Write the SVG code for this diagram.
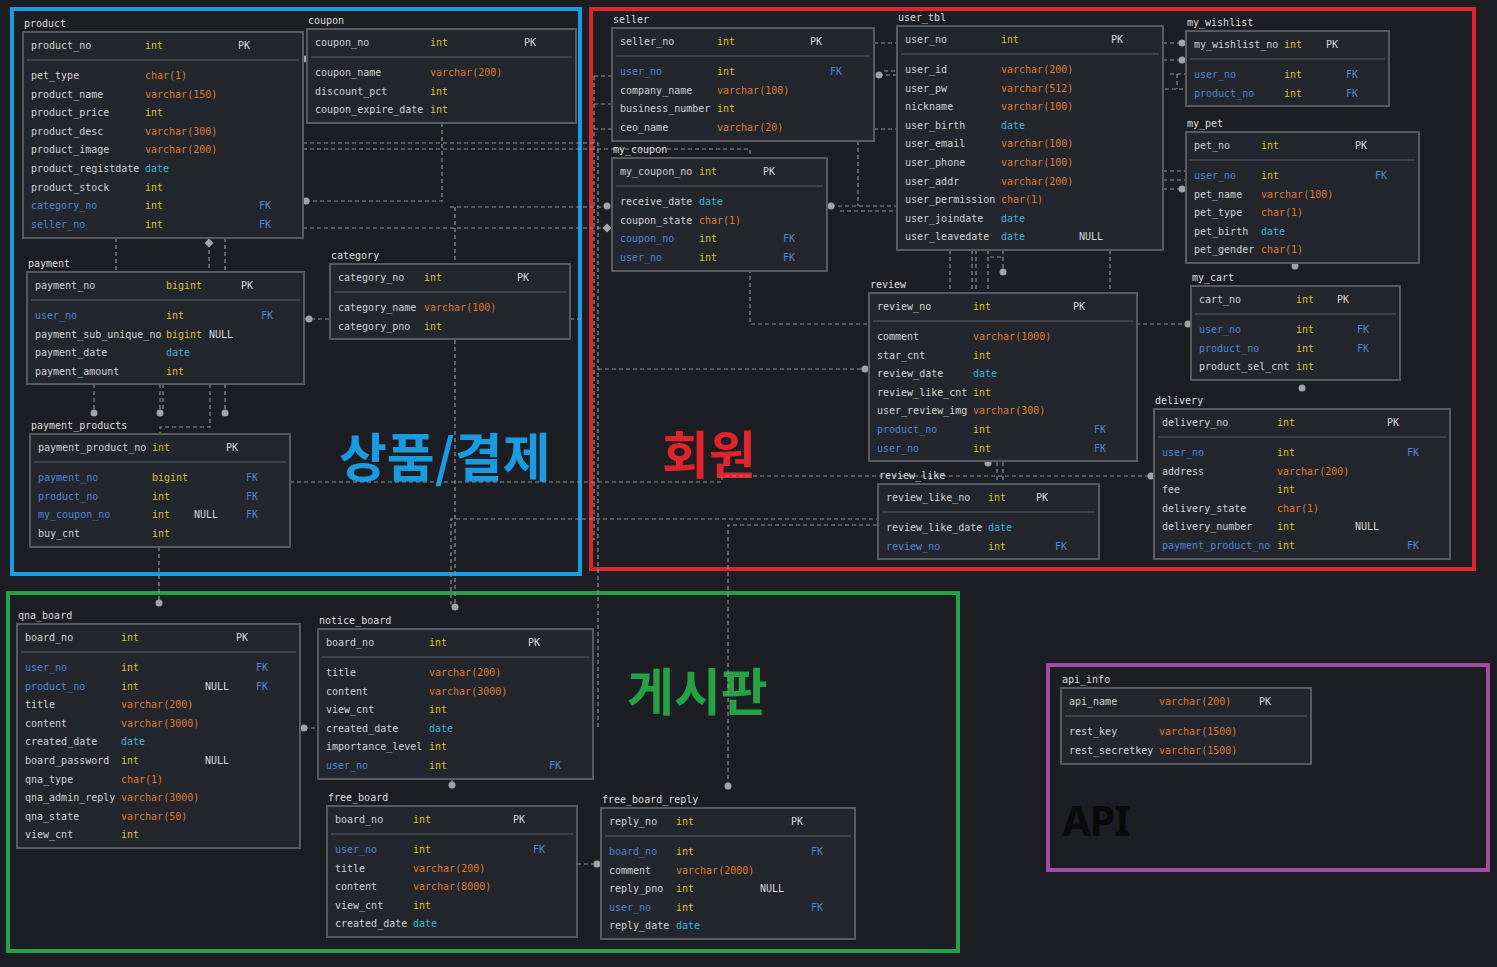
<svg xmlns="http://www.w3.org/2000/svg" width="1497" height="967" viewBox="0 0 1497 967">
<defs>
<style>
text{font-family:"DejaVu Sans Mono","Liberation Mono",monospace;font-size:10px;fill:#d2d2d2}
.box{fill:#23262c;stroke:#575a62;stroke-width:2}
.sep{stroke:#4a4d55;stroke-width:1.5}
.ttl{fill:#dcdcdc}
.f{fill:#4f87d8}
.i{fill:#d6c32f}
.v{fill:#dd7a30}
.d{fill:#3fb5d8}
.k{fill:#d8d8d8}
.fk{fill:#4f87d8}
.nl{fill:#d8d8d8}
.c{fill:none;stroke:#8e9197;stroke-width:1.2;stroke-dasharray:4 3}
.dot{fill:#a0a3a8}
.frame{fill:none;stroke-width:4}
.big{font-family:"Noto Sans CJK KR","Noto Sans",sans-serif;font-weight:bold;font-size:51px}
</style>
</defs>
<rect width="1497" height="967" fill="#1d1e23"/>

<g id="frames">
<rect class="frame" x="12" y="9" width="568" height="565" stroke="#1a9be0"/>
<rect class="frame" x="591" y="9" width="883" height="560" stroke="#e0242b"/>
<rect class="frame" x="8" y="593" width="950" height="358" stroke="#25a244"/>
<rect class="frame" x="1048" y="665" width="440" height="205" stroke="#a04fa0"/>
</g>

<g id="group-labels">
<text class="big" x="339" y="477" style="fill:#1a9be0;font-size:52px">상품/결제</text>
<text class="big" x="662" y="474" style="fill:#e0242b">회원</text>
<text class="big" x="627" y="711" style="fill:#25a244">게시판</text>
<text x="1062" y="836" style="font-family:'Noto Sans','Liberation Sans',sans-serif;font-weight:bold;font-size:42px;letter-spacing:-1.5px;fill:#0a0a0a">API</text>
</g>

<g id="connectors">
<path class="c" d="M303,143 H598 V727"/>
<path class="c" d="M594,76 V540"/>
<path class="c" d="M303,149 H750 V324 H1187"/>
<path class="c" d="M306,201 H442 V123"/>
<path class="c" d="M450,207 H607"/>
<path class="c" d="M455,207 V607"/>
<path class="c" d="M303,228 H603"/>
<path class="c" d="M598,369 H865"/>
<path class="c" d="M290,482 H722 V476 H1150"/>
<path class="c" d="M451,605 V519 H878"/>
<path class="c" d="M728,786 V525 H878"/>
<path class="c" d="M159,547 V603"/>
<path class="c" d="M116,238 V272 M209,243 V272 M225,238 V272"/>
<path class="c" d="M94,384 V413 M160,384 V413 M163,384 V410 M210,384 V427 H160 V434 M225,384 V413"/>
<path class="c" d="M304,319 H330 M570,319 H581"/>
<path class="c" d="M874,43 H897 M874,129 H897 M879,75 H897 M884,71 H897"/>
<path class="c" d="M831,206 H897 M858,141 V206 M840,211 H897"/>
<path class="c" d="M594,76 H612 M594,104 H612 M594,129 H612"/>
<path class="c" d="M1163,43 H1182 M1163,60 H1182 M1170,74 H1186 M1165,89 H1186 M1177,74 V89"/>
<path class="c" d="M1163,171 H1186 M1163,180 H1186 M1163,189 H1182"/>
<path class="c" d="M950,250 V293 M972,250 V293 M976,250 V293 M988,250 V293 M1003,250 V272 M1110,250 V293 M990,257 H1002"/>
<path class="c" d="M997,462 V484 M1003,462 V484"/>
<path class="c" d="M304,728 H318 M452,779 V785 M577,864 H597"/>
<circle class="dot" cx="306" cy="59" r="3.5"/>
<circle class="dot" cx="306" cy="201" r="3.5"/>
<circle class="dot" cx="607" cy="206" r="3.5"/>
<path class="dot" d="M607,223.5 L611.5,228 L607,232.5 L602.5,228 Z"/>
<path class="dot" d="M209,238.5 L213.5,243 L209,247.5 L204.5,243 Z"/>
<circle class="dot" cx="455" cy="607" r="3.5"/>
<circle class="dot" cx="865" cy="369" r="3.5"/>
<circle class="dot" cx="1151" cy="476" r="3.5"/>
<circle class="dot" cx="728" cy="786" r="3.5"/>
<circle class="dot" cx="159" cy="603" r="3.5"/>
<circle class="dot" cx="94" cy="413" r="3.5"/>
<circle class="dot" cx="160" cy="413" r="3.5"/>
<circle class="dot" cx="225" cy="413" r="3.5"/>
<circle class="dot" cx="309" cy="319" r="3.5"/>
<circle class="dot" cx="879" cy="75" r="3.5"/>
<circle class="dot" cx="831" cy="206" r="3.5"/>
<circle class="dot" cx="1182" cy="43" r="3.5"/>
<circle class="dot" cx="1182" cy="60" r="3.5"/>
<circle class="dot" cx="1182" cy="189" r="3.5"/>
<circle class="dot" cx="1003" cy="272" r="3.5"/>
<circle class="dot" cx="1188" cy="324" r="3.5"/>
<circle class="dot" cx="988" cy="463" r="3.5"/>
<circle class="dot" cx="1295" cy="266" r="3.5"/>
<circle class="dot" cx="1302" cy="388" r="3.5"/>
<circle class="dot" cx="304" cy="728" r="3.5"/>
<circle class="dot" cx="452" cy="785" r="3.5"/>
<circle class="dot" cx="597" cy="864" r="3.5"/>
</g>

<g id="product" transform="translate(23,32)">
<text class="ttl" x="1" y="-5">product</text>
<rect class="box" width="280" height="206"/>
<line class="sep" x1="4" y1="28" x2="276" y2="28"/>
<text x="8" y="16.5">product_no</text><text class="i" x="122" y="16.5">int</text><text class="k" x="215" y="16.5">PK</text>
<text x="8" y="47">pet_type</text><text class="v" x="122" y="47">char(1)</text>
<text x="8" y="65.6">product_name</text><text class="v" x="122" y="65.6">varchar(150)</text>
<text x="8" y="84.2">product_price</text><text class="i" x="122" y="84.2">int</text>
<text x="8" y="102.8">product_desc</text><text class="v" x="122" y="102.8">varchar(300)</text>
<text x="8" y="121.4">product_image</text><text class="v" x="122" y="121.4">varchar(200)</text>
<text x="8" y="140">product_registdate</text><text class="d" x="122" y="140">date</text>
<text x="8" y="158.6">product_stock</text><text class="i" x="122" y="158.6">int</text>
<text class="f" x="8" y="177.2">category_no</text><text class="i" x="122" y="177.2">int</text><text class="fk" x="236" y="177.2">FK</text>
<text class="f" x="8" y="195.8">seller_no</text><text class="i" x="122" y="195.8">int</text><text class="fk" x="236" y="195.8">FK</text>
</g>

<g id="coupon" transform="translate(307,29)">
<text class="ttl" x="1" y="-5">coupon</text>
<rect class="box" width="269" height="94"/>
<line class="sep" x1="4" y1="28" x2="265" y2="28"/>
<text x="8" y="16.5">coupon_no</text><text class="i" x="123" y="16.5">int</text><text class="k" x="217" y="16.5">PK</text>
<text x="8" y="47">coupon_name</text><text class="v" x="123" y="47">varchar(200)</text>
<text x="8" y="65.6">discount_pct</text><text class="i" x="123" y="65.6">int</text>
<text x="8" y="84.2">coupon_expire_date</text><text class="i" x="123" y="84.2">int</text>
</g>

<g id="seller" transform="translate(612,28)">
<text class="ttl" x="1" y="-5">seller</text>
<rect class="box" width="262" height="113"/>
<line class="sep" x1="4" y1="28" x2="258" y2="28"/>
<text x="8" y="16.5">seller_no</text><text class="i" x="105" y="16.5">int</text><text class="k" x="198" y="16.5">PK</text>
<text class="f" x="8" y="47">user_no</text><text class="i" x="105" y="47">int</text><text class="fk" x="218" y="47">FK</text>
<text x="8" y="65.6">company_name</text><text class="v" x="105" y="65.6">varchar(100)</text>
<text x="8" y="84.2">business_number</text><text class="i" x="105" y="84.2">int</text>
<text x="8" y="102.8">ceo_name</text><text class="v" x="105" y="102.8">varchar(20)</text>
</g>

<g id="my_coupon" transform="translate(612,158)">
<text class="ttl" x="1" y="-5">my_coupon</text>
<rect class="box" width="215" height="113"/>
<line class="sep" x1="4" y1="28" x2="211" y2="28"/>
<text x="8" y="16.5">my_coupon_no</text><text class="i" x="87" y="16.5">int</text><text class="k" x="151" y="16.5">PK</text>
<text x="8" y="47">receive_date</text><text class="d" x="87" y="47">date</text>
<text x="8" y="65.6">coupon_state</text><text class="v" x="87" y="65.6">char(1)</text>
<text class="f" x="8" y="84.2">coupon_no</text><text class="i" x="87" y="84.2">int</text><text class="fk" x="171" y="84.2">FK</text>
<text class="f" x="8" y="102.8">user_no</text><text class="i" x="87" y="102.8">int</text><text class="fk" x="171" y="102.8">FK</text>
</g>

<g id="user_tbl" transform="translate(897,26)">
<text class="ttl" x="1" y="-5">user_tbl</text>
<rect class="box" width="266" height="224"/>
<line class="sep" x1="4" y1="28" x2="262" y2="28"/>
<text x="8" y="16.5">user_no</text><text class="i" x="104" y="16.5">int</text><text class="k" x="214" y="16.5">PK</text>
<text x="8" y="47">user_id</text><text class="v" x="104" y="47">varchar(200)</text>
<text x="8" y="65.6">user_pw</text><text class="v" x="104" y="65.6">varchar(512)</text>
<text x="8" y="84.2">nickname</text><text class="v" x="104" y="84.2">varchar(100)</text>
<text x="8" y="102.8">user_birth</text><text class="d" x="104" y="102.8">date</text>
<text x="8" y="121.4">user_email</text><text class="v" x="104" y="121.4">varchar(100)</text>
<text x="8" y="140">user_phone</text><text class="v" x="104" y="140">varchar(100)</text>
<text x="8" y="158.6">user_addr</text><text class="v" x="104" y="158.6">varchar(200)</text>
<text x="8" y="177.2">user_permission</text><text class="v" x="104" y="177.2">char(1)</text>
<text x="8" y="195.8">user_joindate</text><text class="d" x="104" y="195.8">date</text>
<text x="8" y="214.4">user_leavedate</text><text class="d" x="104" y="214.4">date</text><text class="nl" x="182" y="214.4">NULL</text>
</g>

<g id="my_wishlist" transform="translate(1186,31)">
<text class="ttl" x="1" y="-5">my_wishlist</text>
<rect class="box" width="203" height="75"/>
<line class="sep" x1="4" y1="28" x2="199" y2="28"/>
<text x="8" y="16.5">my_wishlist_no</text><text class="i" x="98" y="16.5">int</text><text class="k" x="140" y="16.5">PK</text>
<text class="f" x="8" y="47">user_no</text><text class="i" x="98" y="47">int</text><text class="fk" x="160" y="47">FK</text>
<text class="f" x="8" y="65.6">product_no</text><text class="i" x="98" y="65.6">int</text><text class="fk" x="160" y="65.6">FK</text>
</g>

<g id="my_pet" transform="translate(1186,132)">
<text class="ttl" x="1" y="-5">my_pet</text>
<rect class="box" width="233" height="131"/>
<line class="sep" x1="4" y1="28" x2="229" y2="28"/>
<text x="8" y="16.5">pet_no</text><text class="i" x="75" y="16.5">int</text><text class="k" x="169" y="16.5">PK</text>
<text class="f" x="8" y="47">user_no</text><text class="i" x="75" y="47">int</text><text class="fk" x="189" y="47">FK</text>
<text x="8" y="65.6">pet_name</text><text class="v" x="75" y="65.6">varchar(100)</text>
<text x="8" y="84.2">pet_type</text><text class="v" x="75" y="84.2">char(1)</text>
<text x="8" y="102.8">pet_birth</text><text class="d" x="75" y="102.8">date</text>
<text x="8" y="121.4">pet_gender</text><text class="v" x="75" y="121.4">char(1)</text>
</g>

<g id="my_cart" transform="translate(1191,286)">
<text class="ttl" x="1" y="-5">my_cart</text>
<rect class="box" width="209" height="94"/>
<line class="sep" x1="4" y1="28" x2="205" y2="28"/>
<text x="8" y="16.5">cart_no</text><text class="i" x="105" y="16.5">int</text><text class="k" x="146" y="16.5">PK</text>
<text class="f" x="8" y="47">user_no</text><text class="i" x="105" y="47">int</text><text class="fk" x="166" y="47">FK</text>
<text class="f" x="8" y="65.6">product_no</text><text class="i" x="105" y="65.6">int</text><text class="fk" x="166" y="65.6">FK</text>
<text x="8" y="84.2">product_sel_cnt</text><text class="i" x="105" y="84.2">int</text>
</g>

<g id="delivery" transform="translate(1154,409)">
<text class="ttl" x="1" y="-5">delivery</text>
<rect class="box" width="296" height="150"/>
<line class="sep" x1="4" y1="28" x2="292" y2="28"/>
<text x="8" y="16.5">delivery_no</text><text class="i" x="123" y="16.5">int</text><text class="k" x="233" y="16.5">PK</text>
<text class="f" x="8" y="47">user_no</text><text class="i" x="123" y="47">int</text><text class="fk" x="253" y="47">FK</text>
<text x="8" y="65.6">address</text><text class="v" x="123" y="65.6">varchar(200)</text>
<text x="8" y="84.2">fee</text><text class="i" x="123" y="84.2">int</text>
<text x="8" y="102.8">delivery_state</text><text class="v" x="123" y="102.8">char(1)</text>
<text x="8" y="121.4">delivery_number</text><text class="i" x="123" y="121.4">int</text><text class="nl" x="201" y="121.4">NULL</text>
<text class="f" x="8" y="140">payment_product_no</text><text class="i" x="123" y="140">int</text><text class="fk" x="253" y="140">FK</text>
</g>

<g id="payment" transform="translate(27,272)">
<text class="ttl" x="1" y="-5">payment</text>
<rect class="box" width="277" height="112"/>
<line class="sep" x1="4" y1="28" x2="273" y2="28"/>
<text x="8" y="16.5">payment_no</text><text class="i" x="139" y="16.5">bigint</text><text class="k" x="214" y="16.5">PK</text>
<text class="f" x="8" y="47">user_no</text><text class="i" x="139" y="47">int</text><text class="fk" x="234" y="47">FK</text>
<text x="8" y="65.6">payment_sub_unique_no</text><text class="i" x="139" y="65.6">bigint</text><text class="nl" x="182" y="65.6">NULL</text>
<text x="8" y="84.2">payment_date</text><text class="d" x="139" y="84.2">date</text>
<text x="8" y="102.8">payment_amount</text><text class="i" x="139" y="102.8">int</text>
</g>

<g id="category" transform="translate(330,264)">
<text class="ttl" x="1" y="-5">category</text>
<rect class="box" width="240" height="75"/>
<line class="sep" x1="4" y1="28" x2="236" y2="28"/>
<text x="8" y="16.5">category_no</text><text class="i" x="94" y="16.5">int</text><text class="k" x="187" y="16.5">PK</text>
<text x="8" y="47">category_name</text><text class="v" x="94" y="47">varchar(100)</text>
<text x="8" y="65.6">category_pno</text><text class="i" x="94" y="65.6">int</text>
</g>

<g id="payment_products" transform="translate(30,434)">
<text class="ttl" x="1" y="-5">payment_products</text>
<rect class="box" width="260" height="113"/>
<line class="sep" x1="4" y1="28" x2="256" y2="28"/>
<text x="8" y="16.5">payment_product_no</text><text class="i" x="122" y="16.5">int</text><text class="k" x="196" y="16.5">PK</text>
<text class="f" x="8" y="47">payment_no</text><text class="i" x="122" y="47">bigint</text><text class="fk" x="216" y="47">FK</text>
<text class="f" x="8" y="65.6">product_no</text><text class="i" x="122" y="65.6">int</text><text class="fk" x="216" y="65.6">FK</text>
<text class="f" x="8" y="84.2">my_coupon_no</text><text class="i" x="122" y="84.2">int</text><text class="nl" x="164" y="84.2">NULL</text><text class="fk" x="216" y="84.2">FK</text>
<text x="8" y="102.8">buy_cnt</text><text class="i" x="122" y="102.8">int</text>
</g>

<g id="review" transform="translate(869,293)">
<text class="ttl" x="1" y="-5">review</text>
<rect class="box" width="268" height="168"/>
<line class="sep" x1="4" y1="28" x2="264" y2="28"/>
<text x="8" y="16.5">review_no</text><text class="i" x="104" y="16.5">int</text><text class="k" x="204" y="16.5">PK</text>
<text x="8" y="47">comment</text><text class="v" x="104" y="47">varchar(1000)</text>
<text x="8" y="65.6">star_cnt</text><text class="i" x="104" y="65.6">int</text>
<text x="8" y="84.2">review_date</text><text class="d" x="104" y="84.2">date</text>
<text x="8" y="102.8">review_like_cnt</text><text class="i" x="104" y="102.8">int</text>
<text x="8" y="121.4">user_review_img</text><text class="v" x="104" y="121.4">varchar(300)</text>
<text class="f" x="8" y="140">product_no</text><text class="i" x="104" y="140">int</text><text class="fk" x="225" y="140">FK</text>
<text class="f" x="8" y="158.6">user_no</text><text class="i" x="104" y="158.6">int</text><text class="fk" x="225" y="158.6">FK</text>
</g>

<g id="review_like" transform="translate(878,484)">
<text class="ttl" x="1" y="-5">review_like</text>
<rect class="box" width="221" height="75"/>
<line class="sep" x1="4" y1="28" x2="217" y2="28"/>
<text x="8" y="16.5">review_like_no</text><text class="i" x="110" y="16.5">int</text><text class="k" x="158" y="16.5">PK</text>
<text x="8" y="47">review_like_date</text><text class="d" x="110" y="47">date</text>
<text class="f" x="8" y="65.6">review_no</text><text class="i" x="110" y="65.6">int</text><text class="fk" x="177" y="65.6">FK</text>
</g>

<g id="qna_board" transform="translate(17,624)">
<text class="ttl" x="1" y="-5">qna_board</text>
<rect class="box" width="283" height="224"/>
<line class="sep" x1="4" y1="28" x2="279" y2="28"/>
<text x="8" y="16.5">board_no</text><text class="i" x="104" y="16.5">int</text><text class="k" x="219" y="16.5">PK</text>
<text class="f" x="8" y="47">user_no</text><text class="i" x="104" y="47">int</text><text class="fk" x="239" y="47">FK</text>
<text class="f" x="8" y="65.6">product_no</text><text class="i" x="104" y="65.6">int</text><text class="nl" x="188" y="65.6">NULL</text><text class="fk" x="239" y="65.6">FK</text>
<text x="8" y="84.2">title</text><text class="v" x="104" y="84.2">varchar(200)</text>
<text x="8" y="102.8">content</text><text class="v" x="104" y="102.8">varchar(3000)</text>
<text x="8" y="121.4">created_date</text><text class="d" x="104" y="121.4">date</text>
<text x="8" y="140">board_password</text><text class="i" x="104" y="140">int</text><text class="nl" x="188" y="140">NULL</text>
<text x="8" y="158.6">qna_type</text><text class="v" x="104" y="158.6">char(1)</text>
<text x="8" y="177.2">qna_admin_reply</text><text class="v" x="104" y="177.2">varchar(3000)</text>
<text x="8" y="195.8">qna_state</text><text class="v" x="104" y="195.8">varchar(50)</text>
<text x="8" y="214.4">view_cnt</text><text class="i" x="104" y="214.4">int</text>
</g>

<g id="notice_board" transform="translate(318,629)">
<text class="ttl" x="1" y="-5">notice_board</text>
<rect class="box" width="275" height="150"/>
<line class="sep" x1="4" y1="28" x2="271" y2="28"/>
<text x="8" y="16.5">board_no</text><text class="i" x="111" y="16.5">int</text><text class="k" x="210" y="16.5">PK</text>
<text x="8" y="47">title</text><text class="v" x="111" y="47">varchar(200)</text>
<text x="8" y="65.6">content</text><text class="v" x="111" y="65.6">varchar(3000)</text>
<text x="8" y="84.2">view_cnt</text><text class="i" x="111" y="84.2">int</text>
<text x="8" y="102.8">created_date</text><text class="d" x="111" y="102.8">date</text>
<text x="8" y="121.4">importance_level</text><text class="i" x="111" y="121.4">int</text>
<text class="f" x="8" y="140">user_no</text><text class="i" x="111" y="140">int</text><text class="fk" x="231" y="140">FK</text>
</g>

<g id="free_board" transform="translate(327,806)">
<text class="ttl" x="1" y="-5">free_board</text>
<rect class="box" width="250" height="131"/>
<line class="sep" x1="4" y1="28" x2="246" y2="28"/>
<text x="8" y="16.5">board_no</text><text class="i" x="86" y="16.5">int</text><text class="k" x="186" y="16.5">PK</text>
<text class="f" x="8" y="47">user_no</text><text class="i" x="86" y="47">int</text><text class="fk" x="206" y="47">FK</text>
<text x="8" y="65.6">title</text><text class="v" x="86" y="65.6">varchar(200)</text>
<text x="8" y="84.2">content</text><text class="v" x="86" y="84.2">varchar(8000)</text>
<text x="8" y="102.8">view_cnt</text><text class="i" x="86" y="102.8">int</text>
<text x="8" y="121.4">created_date</text><text class="d" x="86" y="121.4">date</text>
</g>

<g id="free_board_reply" transform="translate(601,808)">
<text class="ttl" x="1" y="-5">free_board_reply</text>
<rect class="box" width="254" height="131"/>
<line class="sep" x1="4" y1="28" x2="250" y2="28"/>
<text x="8" y="16.5">reply_no</text><text class="i" x="75" y="16.5">int</text><text class="k" x="190" y="16.5">PK</text>
<text class="f" x="8" y="47">board_no</text><text class="i" x="75" y="47">int</text><text class="fk" x="210" y="47">FK</text>
<text x="8" y="65.6">comment</text><text class="v" x="75" y="65.6">varchar(2000)</text>
<text x="8" y="84.2">reply_pno</text><text class="i" x="75" y="84.2">int</text><text class="nl" x="159" y="84.2">NULL</text>
<text class="f" x="8" y="102.8">user_no</text><text class="i" x="75" y="102.8">int</text><text class="fk" x="210" y="102.8">FK</text>
<text x="8" y="121.4">reply_date</text><text class="d" x="75" y="121.4">date</text>
</g>

<g id="api_info" transform="translate(1061,688)">
<text class="ttl" x="1" y="-5">api_info</text>
<rect class="box" width="250" height="76"/>
<line class="sep" x1="4" y1="28" x2="246" y2="28"/>
<text x="8" y="16.5">api_name</text><text class="v" x="98" y="16.5">varchar(200)</text><text class="k" x="198" y="16.5">PK</text>
<text x="8" y="47">rest_key</text><text class="v" x="98" y="47">varchar(1500)</text>
<text x="8" y="65.6">rest_secretkey</text><text class="v" x="98" y="65.6">varchar(1500)</text>
</g>
</svg>
